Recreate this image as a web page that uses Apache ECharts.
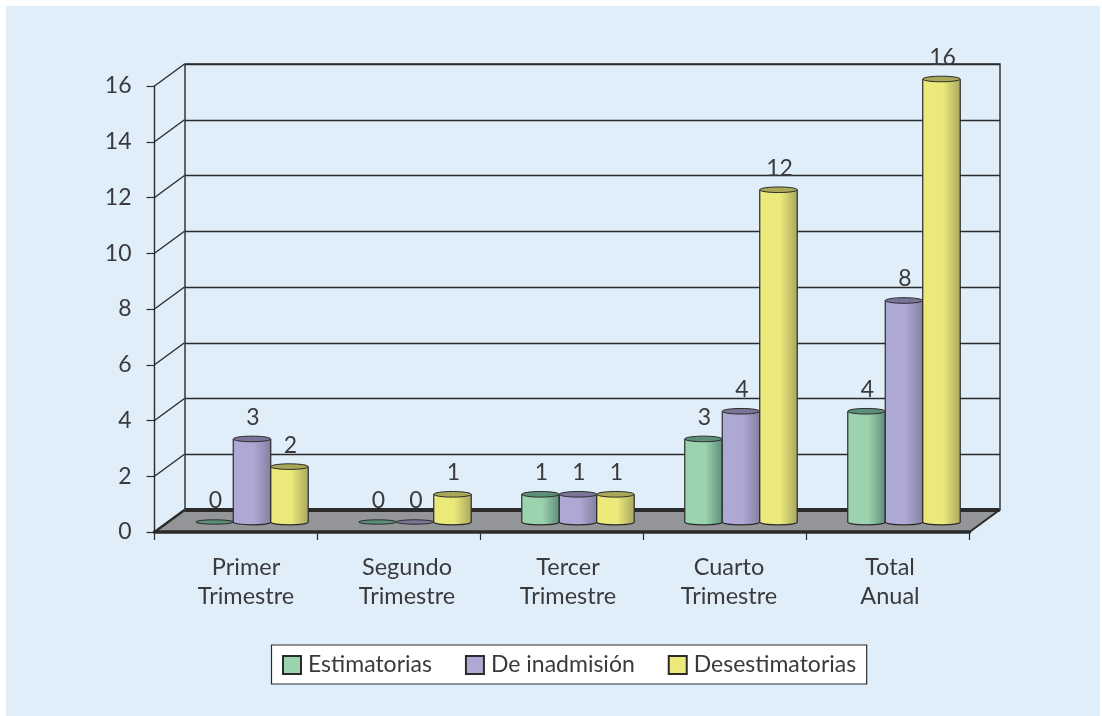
<!DOCTYPE html>
<html><head><meta charset="utf-8">
<style>html,body{margin:0;padding:0;background:#fff}#c{width:1102px;height:716px}</style>
<script src="https://cdn.jsdelivr.net/npm/echarts@6/dist/echarts.min.js"></script>
</head><body><div id="c"></div>
<script>
const categories = ['Primer\nTrimestre','Segundo\nTrimestre','Tercer\nTrimestre','Cuarto\nTrimestre','Total\nAnual'];
const yTicks = [0,2,4,6,8,10,12,14,16];
const estimatorias = [0,0,1,3,4];
const inadmision = [3,0,1,4,8];
const desestimatorias = [2,1,1,12,16];

const FONT = 'Lato, "Open Sans", sans-serif';
const INK = '#2b2b2b', TEXT = '#3a3a3c';
const DX = 30, DY = -22;
const chart = echarts.init(document.getElementById('c'), null, {renderer:'canvas'});

function cyl(offset, body, dark, top) {
  return function (params, api) {
    const v = api.value(1);
    const band = api.size([1, 0])[0];
    const w = band * 0.23;
    const base = api.coord([api.value(0), 0]);
    const tp = api.coord([api.value(0), v]);
    const cx = base[0] + offset * w;
    const rx = w / 2, ry = 2.8;
    const fill = new echarts.graphic.LinearGradient(0, 0, 1, 0, [
      {offset:0, color:body},{offset:0.55, color:body},{offset:1, color:dark}]);
    const children = [];
    if (v > 0) {
      children.push(
        {type:'ellipse', shape:{cx, cy:base[1], rx, ry}, style:{fill, stroke:INK, lineWidth:1.2}},
        {type:'rect', shape:{x:cx-rx, y:tp[1], width:w, height:base[1]-tp[1]}, style:{fill}},
        {type:'line', shape:{x1:cx-rx, y1:tp[1], x2:cx-rx, y2:base[1]}, style:{stroke:INK, lineWidth:1.2}},
        {type:'line', shape:{x1:cx+rx, y1:tp[1], x2:cx+rx, y2:base[1]}, style:{stroke:INK, lineWidth:1.2}});
    }
    children.push({type:'ellipse', shape:{cx, cy:tp[1], rx, ry: v>0 ? ry : 2.2}, style:{fill:top, stroke:INK, lineWidth:1}});
    children.push({type:'text', style:{text:String(v), x:cx+1, y:tp[1]-10, align:'center', verticalAlign:'bottom',
      font:'23px '+FONT, fill:TEXT}});
    return {type:'group', children};
  };
}
function barSeries(name, values, offset, body, dark, top) {
  return {name, type:'custom', xAxisIndex:2, yAxisIndex:2, z:6,
    itemStyle:{color:body, borderColor:INK, borderWidth:1},
    renderItem:cyl(offset, body, dark, top),
    encode:{x:0,y:1}, data:values.map((v,i)=>[i,v])};
}

const hiddenY = i => ({gridIndex:i, type:'value', min:0, max:16, interval:2, show:false, splitLine:{show:false}});
const hiddenX = i => ({gridIndex:i, type:'category', data:categories, show:false});

chart.setOption({
  animation:false,
  backgroundColor:'#ffffff',
  graphic:[{type:'rect', z:-10, shape:{x:6,y:6,width:1094,height:710}, style:{fill:'#E0EEFA'}}],
  grid:[
    {left:154.5, width:815, top:86, height:446},
    {left:185, width:815, top:64, height:446, show:true, backgroundColor:'transparent', borderColor:INK, borderWidth:1.4},
    {left:170.5, width:815, top:79, height:443},
    {left:165.5, width:805, top:86, height:446}
  ],
  xAxis:[
    {gridIndex:0, type:'category', data:categories, z:4, boundaryGap:true,
      axisLine:{show:true, onZero:false, lineStyle:{color:INK, width:3.5}},
      axisTick:{show:true, alignWithLabel:false, length:8, lineStyle:{color:INK, width:1.2}},
      axisLabel:{show:false}},
    hiddenX(1), hiddenX(2),
    {gridIndex:3, type:'category', data:categories,
      axisLine:{show:false}, axisTick:{show:false},
      axisLabel:{show:true, margin:21, interval:0, fontFamily:FONT, fontSize:23.5, lineHeight:29, color:TEXT}}
  ],
  yAxis:[
    {gridIndex:0, type:'value', min:0, max:16, interval:2, z:4,
      axisLine:{show:true, lineStyle:{color:INK, width:1.4}},
      axisTick:{show:true, length:8, lineStyle:{color:INK, width:1.2}},
      splitLine:{show:false},
      axisLabel:{margin:23, fontFamily:FONT, fontSize:23, color:TEXT, padding:[0,0,5,0],
        formatter:v => String(v)}},
    {gridIndex:1, type:'value', min:0, max:16, interval:2, show:true,
      axisLine:{show:false}, axisTick:{show:false}, axisLabel:{show:false},
      splitLine:{show:true, lineStyle:{color:INK, width:1.4}}},
    hiddenY(2), hiddenY(3)
  ],
  legend:{
    data:['Estimatorias','De inadmisión','Desestimatorias'],
    left:271.5, top:645, padding:[6,10.5,5,10.5], width:620,
    backgroundColor:'#ffffff', borderColor:INK, borderWidth:1.2, borderRadius:0,
    icon:'rect', itemWidth:18, itemHeight:18, itemGap:33, selectedMode:false,
    textStyle:{fontFamily:FONT, fontSize:23, lineHeight:28, color:TEXT, padding:[0,0,0,2]}
  },
  series:[
    {type:'custom', name:'floor', xAxisIndex:0, yAxisIndex:0, z:1, silent:true, data:[[0,0]], encode:{x:0,y:1},
      renderItem:(p)=>{
        const c = p.coordSys, b = c.y + c.height, r = c.x + c.width;
        return {type:'group', children:[
          {type:'polygon', shape:{points:[[c.x,b],[r,b],[r+DX,b+DY],[c.x+DX,b+DY]]}, style:{fill:'#949598'}},
          {type:'line', shape:{x1:c.x+DX,y1:b+DY,x2:r+DX,y2:b+DY}, style:{stroke:INK,lineWidth:4}},
          {type:'line', shape:{x1:c.x,y1:b,x2:c.x+DX,y2:b+DY}, style:{stroke:INK,lineWidth:2.5}},
          {type:'line', shape:{x1:r,y1:b,x2:r+DX,y2:b+DY}, style:{stroke:INK,lineWidth:2}}
        ]};
      }},
    {type:'custom', name:'walls', xAxisIndex:0, yAxisIndex:0, z:2, silent:true,
      data:yTicks.slice(1).map(t=>[0,t]), encode:{x:0,y:1},
      renderItem:(p,api)=>{
        const c = p.coordSys, y = api.coord([0, api.value(1)])[1];
        return {type:'line', shape:{x1:c.x,y1:y,x2:c.x+DX,y2:y+DY}, style:{stroke:INK,lineWidth:1.4}};
      }},
    barSeries('Estimatorias', estimatorias, -1, '#9BD3AE', '#5F8E7A', '#5C8F78'),
    barSeries('De inadmisión', inadmision, 0, '#ADA8D4', '#8580A0', '#7A7499'),
    barSeries('Desestimatorias', desestimatorias, 1, '#EBE97A', '#A9A860', '#A9A858')
  ]
});
</script></body></html>
